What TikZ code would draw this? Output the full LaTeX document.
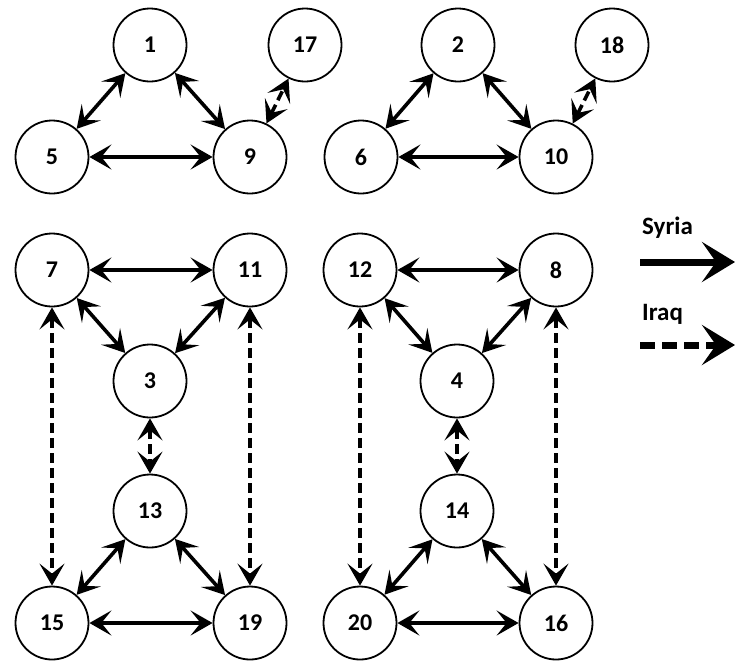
\documentclass[tikz,border=0pt]{standalone}
\usepackage{fontspec}
\setmainfont{Carlito}
\usetikzlibrary{arrows.meta}
\begin{document}
\begin{tikzpicture}[x=1pt,y=-1pt,
  site/.style={circle,draw,line width=1.8pt,minimum size=73pt,inner sep=0pt,
    font=\fontsize{24}{24}\selectfont\bfseries},
  link/.style={line width=3.6pt,{Stealth[length=22pt,width=25pt,inset=10pt]}-{Stealth[length=22pt,width=25pt,inset=10pt]}},
  iraq/.style={link,dash pattern=on 10pt off 5pt},
  legtext/.style={anchor=west,inner sep=0pt,font=\fontsize{25}{25}\selectfont\bfseries}]
\useasboundingbox (0,0) rectangle (735,662);

% upper pairs of sites
\node[site] (n1)  at (150,45)  {1};
\node[site] (n17) at (305,45)  {17};
\node[site] (n5)  at (52,157)  {5};
\node[site] (n9)  at (250,157) {9};
\node[site] (n2)  at (458,45)  {2};
\node[site] (n18) at (612,45)  {18};
\node[site] (n6)  at (361,157) {6};
\node[site] (n10) at (556,157) {10};

% lower left group
\node[site] (n7)  at (52,270)  {7};
\node[site] (n11) at (250,270) {11};
\node[site] (n3)  at (150,381) {3};
\node[site] (n13) at (150,511) {13};
\node[site] (n15) at (52,623)  {15};
\node[site] (n19) at (250,623) {19};

% lower right group
\node[site] (n12) at (360,270) {12};
\node[site] (n8)  at (556,270) {8};
\node[site] (n4)  at (457,381) {4};
\node[site] (n14) at (457,511) {14};
\node[site] (n20) at (360,623) {20};
\node[site] (n16) at (556,623) {16};

% Syria links
\foreach \a/\b in {n1/n5,n1/n9,n5/n9,n2/n6,n2/n10,n6/n10,
                   n7/n11,n7/n3,n11/n3,n13/n15,n13/n19,n15/n19,
                   n12/n8,n12/n4,n8/n4,n14/n20,n14/n16,n20/n16}
  \draw[link] (\a) -- (\b);

% Iraq links
\foreach \a/\b in {n9/n17,n10/n18,n3/n13,n4/n14,n7/n15,n11/n19,n12/n20,n8/n16}
  \draw[iraq] (\a) -- (\b);

% legend
\node[legtext] (lsy) at (642,228) {Syria};
\coordinate (sy0) at (640,262);
\coordinate (sy1) at (735,262);
\draw[line width=7pt,-{Stealth[length=33pt,width=40pt,inset=14pt]}] (sy0) -- (sy1);

\node[legtext] (liq) at (642,314) {Iraq};
\coordinate (iq0) at (640,345);
\coordinate (iq1) at (735,345);
\draw[line width=7pt,dash pattern=on 15pt off 7pt,-{Stealth[length=33pt,width=40pt,inset=14pt]}] (iq0) -- (iq1);
\end{tikzpicture}
\end{document}
